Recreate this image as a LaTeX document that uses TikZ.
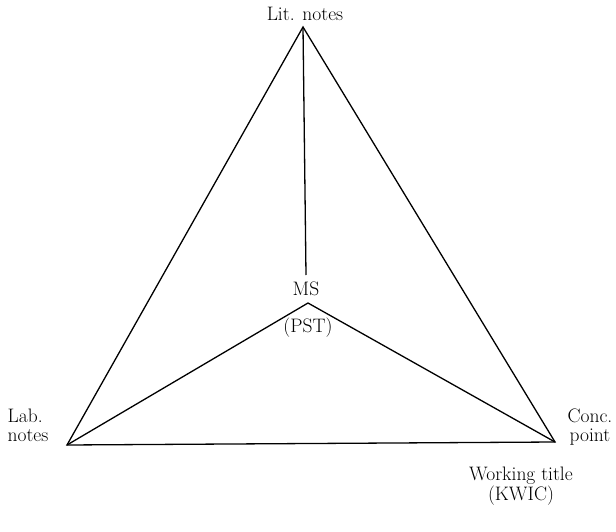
\documentclass[tikz,border=0pt]{standalone}

\begin{document}
\begin{tikzpicture}[x=1pt,y=-1pt,line width=1.3pt,
  lbl/.style={inner sep=0pt,anchor=base,font=\fontsize{19.5}{18.5}\selectfont,align=center}]
  \useasboundingbox (0,0) rectangle (616,532);
  % corners of the triangle
  \coordinate (lit) at (303,27);
  \coordinate (lab) at (67,445);
  \coordinate (conc) at (555,442);
  % inner point
  \coordinate (ms) at (306,275);
  \coordinate (pst) at (308,303);
  % labels
  \node[lbl] (littxt) at (305,21) {Lit. notes};
  \node[lbl] (mstxt) at (306,295) {MS};
  \node[lbl] (psttxt) at (308,332) {(PST)};
  \node[lbl,align=left,anchor=base west] (labtxt) at (7,441) {Lab.\\notes};
  \node[lbl] (conctxt) at (590,441) {Conc.\\point};
  \node[lbl] (kwic) at (521,500) {Working title\\(KWIC)};
  % lines
  \draw (lit) -- (lab) -- (conc) -- cycle;
  \draw (lit) -- (ms);
  \draw (lab) -- (pst) -- (conc);
\end{tikzpicture}
\end{document}
